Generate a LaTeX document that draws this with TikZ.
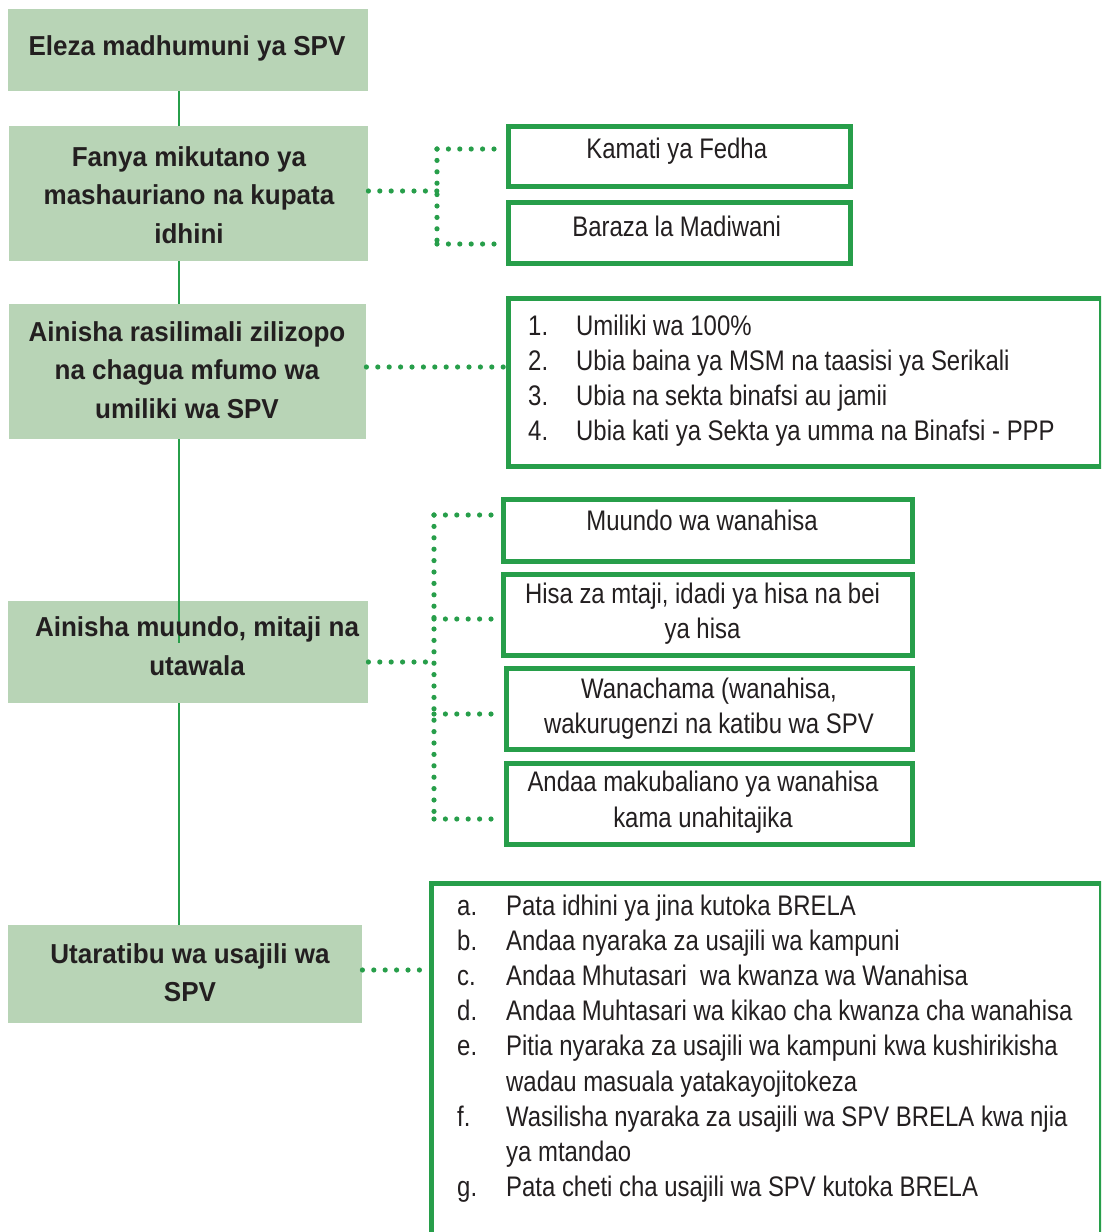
\documentclass[tikz,border=0pt]{standalone}
\usepackage{fontspec}
\setmainfont{Liberation Sans}[FakeStretch=0.845]
\newfontfamily\boldf{Liberation Sans}[FakeStretch=0.95]
\usetikzlibrary{calc}
\definecolor{lightg}{HTML}{B8D4B6}
\definecolor{dgreen}{HTML}{279E4A}
\definecolor{txt}{HTML}{231F20}
\newcommand{\cstack}[1]{\begin{tabular}[t]{@{}c@{}}#1\end{tabular}}
\begin{document}
\begin{tikzpicture}[x=1pt,y=-1pt,
 gbox/.style={fill=lightg, draw=none, inner sep=0pt, anchor=north west},
 wbox/.style={draw=dgreen, line width=5pt, fill=white, inner sep=0pt, anchor=north west},
 btxt/.style={anchor=base, inner sep=0pt, text=txt, font=\boldf\bfseries\fontsize{27.4}{38.3}\selectfont},
 rtxt/.style={anchor=base, inner sep=0pt, text=txt, font=\fontsize{28.3}{35.3}\selectfont},
 ltxt/.style={anchor=base west, inner sep=0pt, text=txt, font=\fontsize{28.3}{35.2}\selectfont},
 dotc/.style={dgreen, line width=5.2pt, line cap=round, dash pattern=on 0pt off 11.4pt},
 vline/.style={dgreen, line width=2pt}]
\useasboundingbox (0,0) rectangle (1101,1232);
\clip (0,0) rectangle (1101,1232);

% left green boxes
\node[gbox, minimum width=360pt, minimum height=82pt] (e1) at (8,9) {};
\node[gbox, minimum width=359pt, minimum height=135pt] (e2) at (9,126) {};
\node[gbox, minimum width=357pt, minimum height=135pt] (e3) at (9,304) {};
\node[gbox, minimum width=360pt, minimum height=102pt] (e4) at (8,601) {};
\node[gbox, minimum width=354pt, minimum height=98pt] (e5) at (8,925) {};

% junction coordinates
\coordinate (v) at (179,0);
\coordinate (v4) at (179,643);
\coordinate (j1) at (437,191);
\coordinate (j1a) at (437,149);
\coordinate (j1b) at (437,244);
\coordinate (j3) at (437,367);
\coordinate (j2) at (434,662);
\coordinate (j2a) at (434,515);
\coordinate (j2c) at (434,619);
\coordinate (j2d) at (434,714);
\coordinate (j2b) at (434,819);
\coordinate (j4) at (400,970);

% dotted connectors (drawn under the white boxes)
\draw[dotc] (j1 -| e2.east) -- (j1);
\draw[dotc] (j1a) -- (j1b);
\draw[dotc] (j1a) -- (j1a -| 505,0);
\draw[dotc] (j1b) -- (j1b -| 505,0);
\draw[dotc] (j3 -| e3.east) -- (j3 -| 505,0);
\draw[dotc] (j2 -| e4.east) -- (j2);
\draw[dotc] (j2a) -- (j2b);
\draw[dotc] (j2a) -- (j2a -| 500,0);
\draw[dotc] (j2c) -- (j2c -| 500,0);
\draw[dotc] (j2d) -- (j2d -| 500,0);
\draw[dotc] (j2b) -- (j2b -| 500,0);
\draw[dotc] (j4 -| e5.east) -- (j4 -| 428,0);

% right white boxes
\node[wbox, minimum width=342pt, minimum height=60pt] (k1) at (505.5,123.5) {};
\node[wbox, minimum width=342pt, minimum height=61pt] (k2) at (505.5,199.5) {};
\node[wbox, minimum width=593pt, minimum height=168pt] (l1) at (505.5,295.5) {};
\node[wbox, minimum width=409pt, minimum height=62pt] (m1) at (500.5,496.5) {};
\node[wbox, minimum width=409pt, minimum height=81pt] (m2) at (500.5,571.5) {};
\node[wbox, minimum width=406pt, minimum height=81pt] (m3) at (503.5,665.5) {};
\node[wbox, minimum width=406pt, minimum height=81pt] (m4) at (503.5,760.5) {};
\node[wbox, minimum width=670pt, minimum height=400pt] (l2) at (428.5,881) {};

% solid spine
\draw[vline] (e1.south -| v) -- (e2.north -| v);
\draw[vline] (e2.south -| v) -- (e3.north -| v);
\draw[vline] (e3.south -| v) -- (v4);
\draw[vline] (e4.south -| v) -- (e5.north -| v);

% left texts
\node[btxt] (e1t) at (187,55.7) {Eleza madhumuni ya SPV};
\node[btxt] (e2t) at (189,166.5) {\cstack{Fanya mikutano ya\\ mashauriano na kupata\\ idhini}};
\node[btxt] (e3t) at (187,341.5) {\cstack{Ainisha rasilimali zilizopo\\ na chagua mfumo wa\\ umiliki wa SPV}};
\node[btxt] (e4t) at (197,636.7) {\cstack{Ainisha muundo, mitaji na\\ utawala}};
\node[btxt] (e5t) at (190,963.3) {\cstack{Utaratibu wa usajili wa\\ SPV}};

% right texts
\node[rtxt] (k1t) at (676.7,158) {Kamati ya Fedha};
\node[rtxt] (k2t) at (676.7,236.7) {Baraza la Madiwani};
\node[rtxt] (m1t) at (702,530.7) {Muundo wa wanahisa};
\node[rtxt] (m2t) at (702.5,603) {\cstack{Hisa za mtaji, idadi ya hisa na bei\\ ya hisa}};
\node[rtxt] (m3t) at (709,698.3) {\cstack{Wanachama (wanahisa,\\ wakurugenzi na katibu wa SPV}};
\node[rtxt] (m4t) at (703,791.7) {\cstack{Andaa makubaliano ya wanahisa\\ kama unahitajika}};

\node[ltxt] (l1t) at (528,335) {\begin{tabular}[t]{@{}p{48pt}@{}l@{}}
1. & Umiliki wa 100\%\\
2. & Ubia baina ya MSM na taasisi ya Serikali\\
3. & Ubia na sekta binafsi au jamii\\
4. & Ubia kati ya Sekta ya umma na Binafsi - PPP
\end{tabular}};

\node[ltxt] (l2t) at (457,915) {\begin{tabular}[t]{@{}p{49pt}@{}l@{}}
a. & Pata idhini ya jina kutoka BRELA\\
b. & Andaa nyaraka za usajili wa kampuni\\
c. & Andaa Mhutasari\ \ wa kwanza wa Wanahisa\\
d. & Andaa Muhtasari wa kikao cha kwanza cha wanahisa\\
e. & Pitia nyaraka za usajili wa kampuni kwa kushirikisha\\
   & wadau masuala yatakayojitokeza\\
f. & Wasilisha nyaraka za usajili wa SPV BRELA kwa njia\\
   & ya mtandao\\
g. & Pata cheti cha usajili wa SPV kutoka BRELA
\end{tabular}};
\end{tikzpicture}
\end{document}
